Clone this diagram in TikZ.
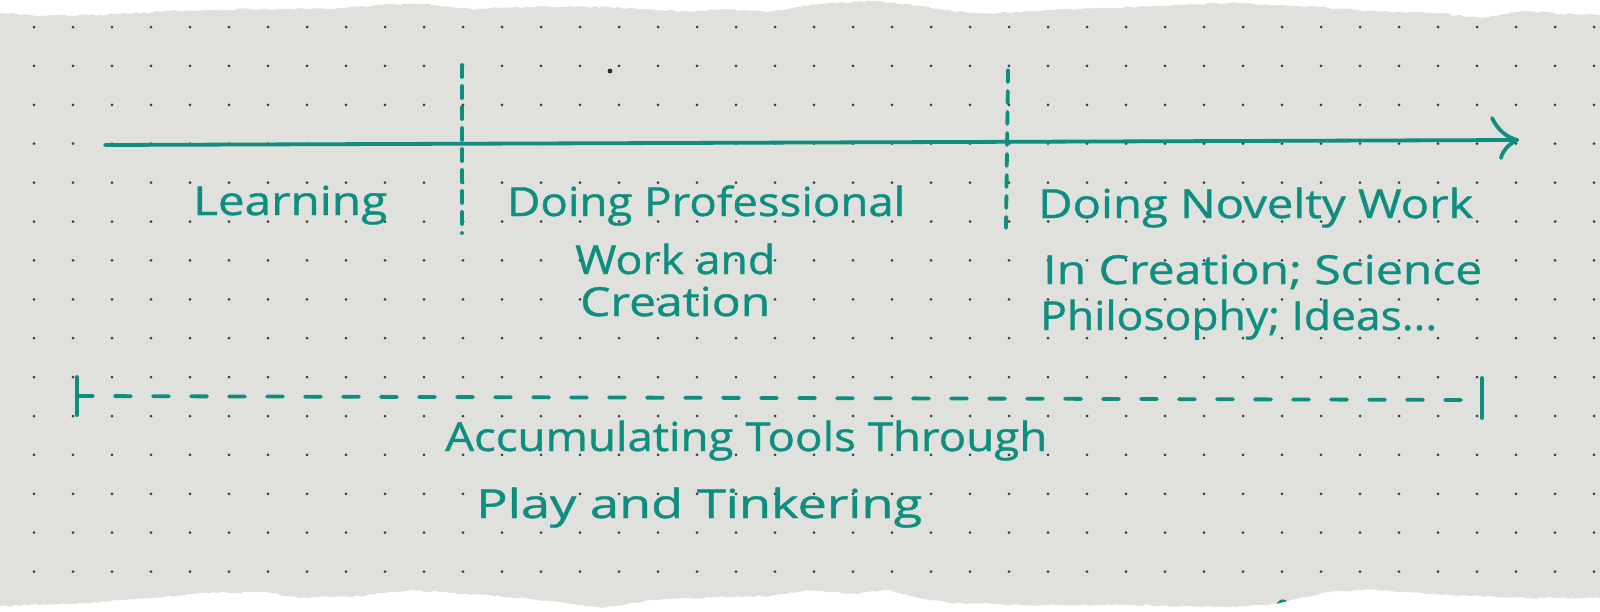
\documentclass[tikz,border=0pt]{standalone}
\usepackage{fontspec}
\setmainfont{Open Sans}[FakeBold=0.9]
\usepackage{graphicx}
\usetikzlibrary{decorations.pathmorphing}
\definecolor{ink}{RGB}{14,142,128}
\definecolor{paper}{RGB}{224,224,221}
\definecolor{dotc}{RGB}{60,60,56}
\tikzset{
  hand/.style={inner sep=0pt, anchor=base west, text=ink, font=\fontsize{40}{48}\selectfont},
  pen/.style={draw=ink, line width=3.8pt, line cap=round, line join=round},
  vdash/.style={pen, dash pattern=on 12pt off 9pt},
  hdash/.style={pen, dash pattern=on 16pt off 22pt},
}
\begin{document}
\begin{tikzpicture}[x=1pt,y=-1pt]
\useasboundingbox (0,0) rectangle (1600,611);
\fill[white] (0,0) rectangle (1600,611);
% torn paper
\pgfmathsetseed{7}
\def\paperpath{(-10,13) -- (0,13) -- (40,16) -- (100,15) -- (170,11) -- (250,9) -- (330,9) -- (380,5) -- (425,4) -- (470,9) -- (530,7) -- (610,7) -- (690,12) -- (725,9) -- (765,12) -- (820,4) -- (875,1) -- (905,4) -- (945,10) -- (985,14) -- (1050,10) -- (1110,8) -- (1180,5) -- (1230,3) -- (1300,6) -- (1370,11) -- (1440,13) -- (1480,18) -- (1525,11) -- (1560,14) -- (1600,15) -- (1610,15) -- (1610,598) -- (1600,598) -- (1530,598) -- (1430,594) -- (1368,589) -- (1330,592) -- (1300,598) -- (1276,604) -- (1225,607) -- (1120,605) -- (1020,605) -- (950,603) -- (918,598) -- (888,590) -- (850,594) -- (806,590) -- (770,596) -- (715,597) -- (650,600) -- (602,608) -- (560,602) -- (510,597) -- (440,592) -- (410,590) -- (360,596) -- (300,598) -- (265,592) -- (205,593) -- (150,598) -- (80,603) -- (0,606) -- (-10,606) -- cycle}
\fill[paper, decorate, decoration={random steps, segment length=4pt, amplitude=0.9pt}] \paperpath;
\begin{scope}
\clip \paperpath;
\foreach \i in {0,...,40} \foreach \j in {0,...,15}
  \fill[dotc] ({34+39*\i},{27+38.9*\j}) circle (1.5pt);
\fill[dotc!70!black] (610,71) circle (2.4pt);
\draw[pen, line width=3pt] (1275,613) .. controls (1278,598) and (1286,596) .. (1292,612);
\end{scope}
% main timeline
\coordinate (ml) at (105,145);
\coordinate (mr) at (1517,140);
\draw[pen] (ml) -- (mr);
\draw[pen] (1492,118) .. controls (1498,130) and (1506,137) .. (mr);
\draw[pen] (mr) .. controls (1508,145) and (1503,150) .. (1501,158);
% vertical dashed dividers
\coordinate (v1t) at (462,65);
\coordinate (v1b) at (462,233);
\coordinate (v2t) at (1008,70);
\coordinate (v2b) at (1006,228);
\draw[vdash] (v1t) -- (v1b);
\draw[vdash] (v2t) -- (v2b);
% labels
\node[hand] (learn) at (193,215) {\resizebox{194pt}{\height}{Learning}};
\node[hand] (prof1) at (507,216) {\resizebox{398pt}{\height}{Doing Professional}};
\node[hand] (prof2) at (575,274) {\resizebox{200pt}{\height}{Work and}};
\node[hand] (prof3) at (580,316) {\resizebox{190pt}{\height}{Creation}};
\node[hand] (nov1) at (1038,218) {\resizebox{435pt}{\height}{Doing Novelty Work}};
\node[hand] (nov2) at (1043,284) {\resizebox{439pt}{\height}{In Creation; Science}};
\node[hand] (nov3) at (1040,330) {\resizebox{397pt}{\height}{Philosophy; Ideas...}};
% accumulation span
\coordinate (hl) at (77,396);
\coordinate (hr) at (1482,400);
\draw[hdash] (hl) -- (hr);
\draw[pen] (77,377) -- (77,415);
\draw[pen] (1482,378) -- (1482,418);
\node[hand] (acc1) at (445,451) {\resizebox{602pt}{\height}{Accumulating Tools Through}};
\node[hand] (acc2) at (476,518) {\resizebox{446pt}{\height}{Play and Tinkering}};
\end{tikzpicture}
\end{document}
